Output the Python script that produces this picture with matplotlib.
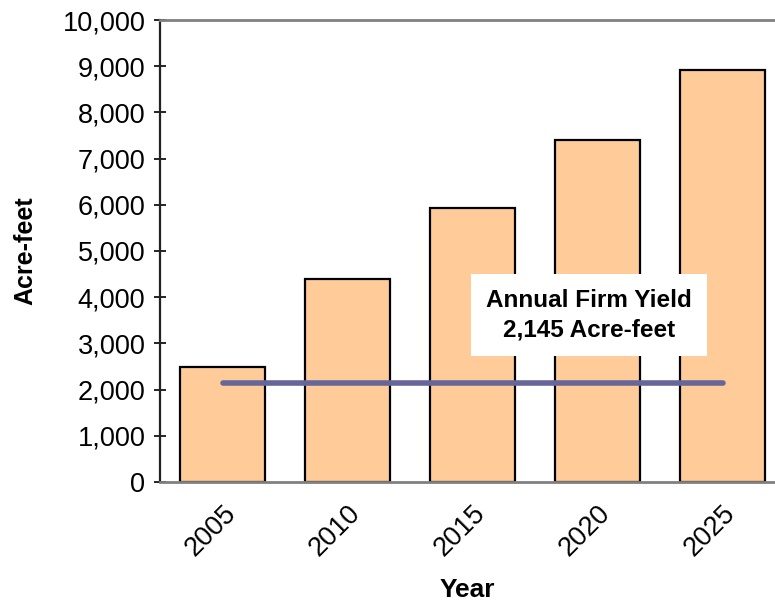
import matplotlib
matplotlib.use("Agg")
import matplotlib.pyplot as plt

years = ["2005", "2010", "2015", "2020", "2025"]
demand = [2500, 4390, 5930, 7400, 8910]
firm_yield = 2145
yield_label = "Annual Firm Yield\n2,145 Acre-feet"

plt.rcParams["font.family"] = ["Liberation Sans", "DejaVu Sans"]

fig = plt.figure(figsize=(7.75, 6.04), dpi=100)
ax = fig.add_axes([160 / 775, 122 / 604, 615 / 775, 462 / 604])

x = range(len(years))
ax.bar(x, demand, width=0.68, color="#FFCC99", edgecolor="black", linewidth=1.6, zorder=2)
ax.plot([0, len(years) - 1], [firm_yield, firm_yield], color="#666699", linewidth=4,
        solid_capstyle="round", zorder=3)

ax.text(2.93, 3615, yield_label, ha="center", va="center", fontsize=17.5, fontweight="bold",
        linespacing=1.35, zorder=4,
        bbox=dict(boxstyle="square,pad=0.62", facecolor="white", edgecolor="none"))

ax.set_xlim(-0.5, 4.42)
ax.set_ylim(0, 10000)
ax.set_yticks(range(0, 10001, 1000))
ax.set_yticklabels([f"{v:,}" for v in range(0, 10001, 1000)], fontsize=19.5)
ax.set_xticks(list(x))
ax.set_xticklabels(years, fontsize=19.5, rotation=45, ha="right", rotation_mode="anchor")
ax.tick_params(axis="y", direction="inout", length=9, width=1.2, pad=6)
ax.tick_params(axis="x", length=0, pad=13)

ax.spines["right"].set_visible(False)
ax.spines["top"].set_color("#808080")
ax.spines["top"].set_linewidth(2)
ax.spines["bottom"].set_color("#808080")
ax.spines["bottom"].set_linewidth(2)
ax.spines["left"].set_color("#222222")
ax.spines["left"].set_linewidth(1.6)

ax.set_ylabel("Acre-feet", fontsize=18, fontweight="bold", labelpad=18)
ax.set_xlabel("Year", fontsize=19, fontweight="bold", labelpad=12)

fig.savefig("out.png", dpi=100)
